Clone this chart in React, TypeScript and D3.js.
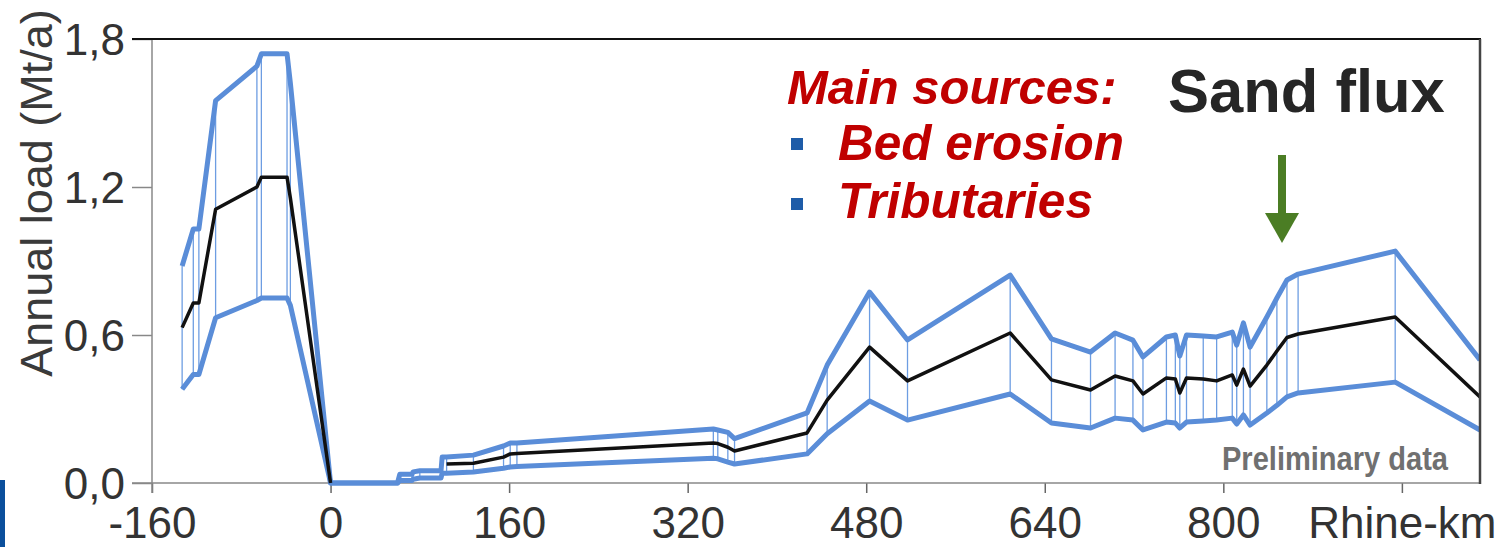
import React, { useEffect, useRef } from 'react'
import * as d3 from 'd3'

// stations along the river (Rhine-km) and annual sand load (Mt/a)
const kms = [-133, -123, -118, -103, -66, -62, -39, -36, 0, 60, 62, 73, 74, 80, 99, 100, 104, 128, 155, 161, 167, 343, 347, 356, 362, 427, 445, 483, 517, 609, 646, 681, 703, 719, 728, 749, 757, 761, 767, 782, 794, 808, 812, 818, 824, 839, 848, 857, 867, 954, 1030]
const upper = [0.88, 1.03, 1.03, 1.55, 1.69, 1.74, 1.74, 1.62, 0, 0, 0.035, 0.035, 0.045, 0.05, 0.05, 0.105, 0.105, 0.113, 0.15, 0.162, 0.162, 0.219, 0.215, 0.205, 0.18, 0.284, 0.478, 0.774, 0.58, 0.843, 0.584, 0.531, 0.608, 0.579, 0.511, 0.592, 0.6, 0.515, 0.6, 0.596, 0.592, 0.612, 0.559, 0.649, 0.551, 0.673, 0.75, 0.823, 0.847, 0.94, 0.499]
const mean = [0.63, 0.73, 0.73, 1.11, 1.2, 1.24, 1.24, 1.155, 0, null, null, null, null, null, null, null, 0.077, 0.08, 0.105, 0.118, 0.12, 0.162, 0.16, 0.145, 0.13, 0.203, 0.336, 0.551, 0.414, 0.608, 0.418, 0.377, 0.434, 0.414, 0.361, 0.426, 0.422, 0.365, 0.426, 0.422, 0.414, 0.438, 0.397, 0.462, 0.393, 0.478, 0.535, 0.59, 0.604, 0.673, 0.349]
const lower = [0.38, 0.44, 0.44, 0.67, 0.74, 0.75, 0.75, 0.72, 0, 0, 0.01, 0.01, 0.015, 0.02, 0.02, 0.04, 0.04, 0.045, 0.06, 0.065, 0.067, 0.1, 0.098, 0.085, 0.077, 0.118, 0.2, 0.332, 0.255, 0.361, 0.243, 0.223, 0.263, 0.255, 0.215, 0.247, 0.243, 0.223, 0.247, 0.251, 0.255, 0.263, 0.239, 0.276, 0.235, 0.284, 0.315, 0.349, 0.365, 0.409, 0.215]

const xTicks = [-160, 0, 160, 320, 480, 640, 800, 960]
const xUnitLabel = 'Rhine-km' // shown in place of the last tick label
const yTicks = [0, 0.6, 1.2, 1.8]
const legendTitle = 'Main sources:'
const legendItems = ['Bed erosion', 'Tributaries']

const FONT = '"Liberation Sans", Arial, sans-serif'
const BLUE = '#5a8dd8'

const App = () => {
  const ref = useRef<SVGSVGElement>(null)

  useEffect(() => {
    draw()
  })

  const draw = () => {
    const svg = d3.select(ref.current)
    svg.selectAll('*').remove()

    const left = 152
    const right = 1480
    const top = 39
    const bottom = 483

    const x = d3.scaleLinear().domain([-160, 1030]).range([left, right])
    const y = d3.scaleLinear().domain([0, 1.8]).range([bottom, top])

    const rows = kms.map((k, i) => ({ km: k, up: upper[i], m: mean[i], lo: lower[i] }))

    svg.append('rect').attr('width', 1501).attr('height', 547).attr('fill', '#fff')

    // little blue bar in the lower-left corner
    svg.append('rect').attr('x', 0).attr('y', 480).attr('width', 5).attr('height', 67).attr('fill', '#0b4f9c')

    // x axis
    const lastTick = xTicks[xTicks.length - 1]
    const xAxis = svg
      .append('g')
      .attr('transform', `translate(0,${bottom})`)
      .call(
        d3
          .axisBottom(x)
          .tickValues(xTicks)
          .tickSize(10)
          .tickSizeOuter(0)
          .tickPadding(14)
          .tickFormat((d) => (d === lastTick ? xUnitLabel : String(d)))
      )
    xAxis.select('.domain').remove()
    xAxis.selectAll('line').attr('stroke', '#666').attr('stroke-width', 1.5)
    xAxis.selectAll('text').attr('font-family', FONT).attr('font-size', 44).attr('fill', '#333')

    // y axis
    const yAxis = svg
      .append('g')
      .attr('transform', `translate(${left},0)`)
      .call(d3.axisLeft(y).tickValues(yTicks).tickSize(20).tickSizeOuter(0).tickPadding(7).tickFormat((d) => (d as number).toFixed(1).replace('.', ',')))
    yAxis.select('.domain').remove()
    yAxis.selectAll('line').attr('stroke', '#888').attr('stroke-width', 1.5)
    yAxis.selectAll('text').attr('font-family', FONT).attr('font-size', 44).attr('fill', '#333').attr('dy', '0.36em')

    svg.append('line').attr('x1', left).attr('x2', left).attr('y1', top).attr('y2', bottom + 10).attr('stroke', '#888').attr('stroke-width', 1.5)
    svg.append('line').attr('x1', left - 20).attr('x2', right).attr('y1', bottom).attr('y2', bottom).attr('stroke', '#888').attr('stroke-width', 1.5)

    svg
      .append('text')
      .attr('transform', `translate(52,193) rotate(-90)`)
      .attr('text-anchor', 'middle')
      .attr('font-family', FONT)
      .attr('font-size', 45)
      .attr('fill', '#3a3a3a')
      .text('Annual load (Mt/a)')

    // data
    svg.append('clipPath').attr('id', 'plotClip').append('rect').attr('x', left).attr('y', 0).attr('width', right - left).attr('height', bottom + 10)
    const plot = svg.append('g').attr('clip-path', 'url(#plotClip)')

    plot
      .selectAll('line.station')
      .data(rows.filter((d) => d.up - d.lo > 0.001))
      .enter()
      .append('line')
      .attr('class', 'station')
      .attr('x1', (d) => x(d.km))
      .attr('x2', (d) => x(d.km))
      .attr('y1', (d) => y(d.up))
      .attr('y2', (d) => y(d.lo))
      .attr('stroke', '#6d9de2')
      .attr('stroke-width', 1.3)

    const band = (key: 'up' | 'lo') =>
      d3
        .line<any>()
        .x((d) => x(d.km))
        .y((d) => y(d[key]))

    plot.append('path').datum(rows).attr('fill', 'none').attr('stroke', BLUE).attr('stroke-width', 5).attr('stroke-linejoin', 'round').attr('d', band('lo'))
    plot.append('path').datum(rows).attr('fill', 'none').attr('stroke', BLUE).attr('stroke-width', 5).attr('stroke-linejoin', 'round').attr('d', band('up'))

    plot
      .append('path')
      .datum(rows)
      .attr('fill', 'none')
      .attr('stroke', '#111')
      .attr('stroke-width', 3.5)
      .attr('stroke-linejoin', 'round')
      .attr(
        'd',
        d3
          .line<any>()
          .defined((d) => d.m !== null)
          .x((d) => x(d.km))
          .y((d) => y(d.m))
      )

    // frame
    svg.append('line').attr('x1', left - 20).attr('x2', right + 1).attr('y1', top).attr('y2', top).attr('stroke', '#111').attr('stroke-width', 2)
    svg.append('line').attr('x1', right).attr('x2', right).attr('y1', top).attr('y2', bottom + 1).attr('stroke', '#444').attr('stroke-width', 2.5)

    // legend
    const red = '#c00000'
    svg
      .append('text')
      .attr('x', 787)
      .attr('y', 104)
      .attr('font-family', FONT)
      .attr('font-size', 49)
      .attr('font-weight', 'bold')
      .attr('font-style', 'italic')
      .attr('fill', red)
      .text(legendTitle)
    legendItems.forEach((t, i) => {
      svg.append('rect').attr('x', 791).attr('y', 138 + i * 60).attr('width', 12).attr('height', 12).attr('fill', '#1e5ca8')
      svg
        .append('text')
        .attr('x', 838)
        .attr('y', 160 + i * 58)
        .attr('font-family', FONT)
        .attr('font-size', 49.5)
        .attr('font-weight', 'bold')
        .attr('font-style', 'italic')
        .attr('fill', red)
        .text(t)
    })

    svg
      .append('text')
      .attr('x', 1168)
      .attr('y', 112)
      .attr('font-family', FONT)
      .attr('font-size', 61.5)
      .attr('font-weight', 'bold')
      .attr('fill', '#262626')
      .text('Sand flux')

    // green arrow
    const green = '#4b7d24'
    svg.append('rect').attr('x', 1278).attr('y', 155).attr('width', 8).attr('height', 60).attr('fill', green)
    svg.append('path').attr('d', 'M1265,213 L1299,213 L1282,243 Z').attr('fill', green)

    svg
      .append('text')
      .attr('x', 1222)
      .attr('y', 470)
      .attr('font-family', FONT)
      .attr('font-size', 33)
      .attr('font-weight', 'bold')
      .attr('fill', '#707070')
      .attr('textLength', 226)
      .attr('lengthAdjust', 'spacingAndGlyphs')
      .text('Preliminary data')
  }

  return <svg ref={ref} width={1501} height={547} style={{ position: 'absolute', left: 0, top: 0 }} />
}

export default App
